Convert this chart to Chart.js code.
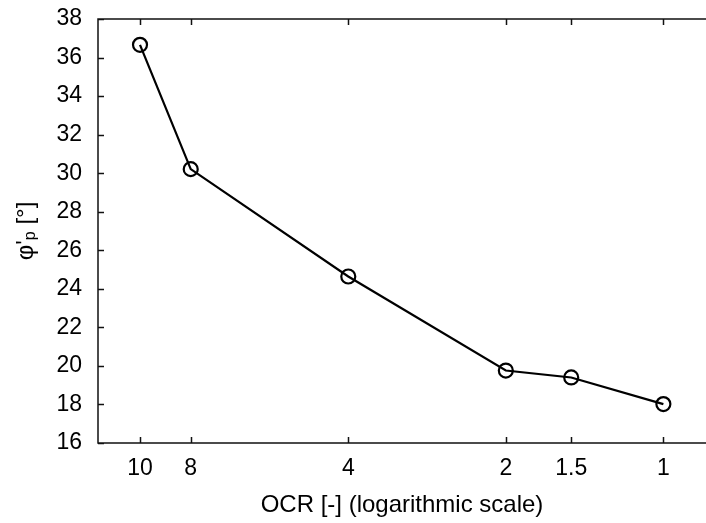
<!DOCTYPE html>
<html lang="en">
<head>
    <meta charset="UTF-8">
    <title>Peak friction angle vs OCR</title>
    <script src="https://cdn.jsdelivr.net/npm/chart.js"></script>
    <style>
        html, body { margin: 0; padding: 0; background: #fff; }
        canvas { display: block; }
    </style>
</head>
<body>
    <canvas id="phiChart" width="706" height="523"></canvas>
    <script>
// data
const ocrValues = [10, 8, 4, 2, 1.5, 1];
const phiPeak = [36.66, 30.21, 24.64, 19.76, 19.40, 18.02];
const xTickValues = [10, 8, 4, 2, 1.5, 1];
const yTickValues = [16, 18, 20, 22, 24, 26, 28, 30, 32, 34, 36, 38];

const FONT = "'Liberation Sans', Arial, sans-serif";

// frame + inward tick marks (gnuplot style)
const framePlugin = {
    id: 'frame',
    afterDraw(chart) {
        const ctx = chart.ctx;
        const a = chart.chartArea;
        const xs = chart.scales.x;
        const ys = chart.scales.y;
        const len = 6;
        ctx.save();
        ctx.strokeStyle = '#111';
        ctx.lineWidth = 1.5;
        ctx.beginPath();
        ctx.moveTo(a.right + 1, a.top);
        ctx.lineTo(a.left, a.top);
        ctx.lineTo(a.left, a.bottom);
        ctx.lineTo(a.right + 1, a.bottom);
        xTickValues.forEach(v => {
            const px = Math.round(xs.getPixelForValue(v)) + 0.5;
            ctx.moveTo(px, a.bottom);
            ctx.lineTo(px, a.bottom - len);
            ctx.moveTo(px, a.top);
            ctx.lineTo(px, a.top + len);
        });
        yTickValues.forEach(v => {
            const py = Math.round(ys.getPixelForValue(v)) + 0.5;
            ctx.moveTo(a.left, py);
            ctx.lineTo(a.left + len, py);
        });
        ctx.stroke();
        ctx.restore();
    }
};

// y title with subscript p
const yTitlePlugin = {
    id: 'yTitle',
    afterDraw(chart) {
        const ctx = chart.ctx;
        const a = chart.chartArea;
        const big = '24px ' + FONT;
        const small = '16px ' + FONT;
        const parts = [
            { t: "\u03C6'", f: big, dy: 0 },
            { t: 'p', f: small, dy: 5 },
            { t: ' [\u00B0]', f: big, dy: 0 }
        ];
        ctx.save();
        let total = 0;
        parts.forEach(p => { ctx.font = p.f; p.w = ctx.measureText(p.t).width; total += p.w; });
        ctx.translate(26, (a.top + a.bottom) / 2);
        ctx.rotate(-Math.PI / 2);
        ctx.fillStyle = '#000';
        ctx.textBaseline = 'middle';
        let x = -total / 2;
        parts.forEach(p => {
            ctx.font = p.f;
            ctx.fillText(p.t, x, p.dy);
            x += p.w;
        });
        ctx.restore();
    }
};

const points = ocrValues.map((v, i) => ({ x: v, y: phiPeak[i] }));

new Chart(document.getElementById('phiChart'), {
    type: 'line',
    data: {
        datasets: [{
            data: points,
            borderColor: '#000',
            borderWidth: 2.2,
            pointRadius: 7,
            pointBorderWidth: 2.2,
            pointBorderColor: '#000',
            pointBackgroundColor: 'rgba(0,0,0,0)',
            tension: 0,
            clip: false
        }]
    },
    options: {
        responsive: false,
        animation: false,
        layout: { autoPadding: false, padding: { top: 19, right: 0, left: 0, bottom: 0 } },
        plugins: {
            legend: { display: false },
            tooltip: { enabled: false }
        },
        scales: {
            x: {
                type: 'logarithmic',
                reverse: true,
                bounds: 'data',
                min: 0.829,
                max: 12.03,
                grid: { display: false },
                border: { display: false },
                afterBuildTicks: s => { s.ticks = xTickValues.map(v => ({ value: v })); },
                afterFit: s => { s.height = 80; s.paddingLeft = 0; s.paddingRight = 0; },
                ticks: {
                    autoSkip: false,
                    maxRotation: 0,
                    padding: 4,
                    color: '#000',
                    font: { family: FONT, size: 23 },
                    callback: v => String(v)
                },
                title: {
                    display: true,
                    text: 'OCR [-] (logarithmic scale)',
                    color: '#000',
                    font: { family: FONT, size: 24 },
                    padding: { top: 0, bottom: 3 }
                }
            },
            y: {
                min: 16,
                max: 38,
                grid: { display: false },
                border: { display: false },
                afterBuildTicks: s => { s.ticks = yTickValues.map(v => ({ value: v })); },
                afterFit: s => { s.width = 98; s.paddingTop = 0; s.paddingBottom = 0; },
                ticks: {
                    padding: 8,
                    color: '#000',
                    font: { family: FONT, size: 23 }
                }
            }
        }
    },
    plugins: [framePlugin, yTitlePlugin]
});
    </script>
</body>
</html>
